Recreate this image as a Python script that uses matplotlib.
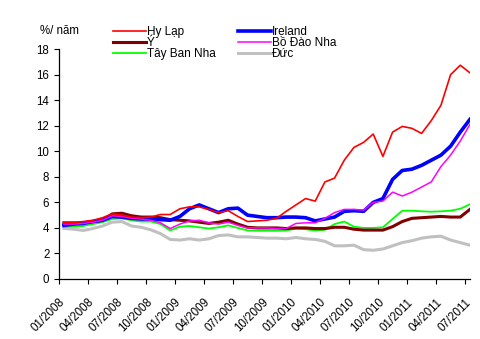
import matplotlib
matplotlib.use('Agg')
import matplotlib.pyplot as plt
import numpy as np

plt.rcParams['font.family'] = ['Liberation Sans', 'DejaVu Sans']

# monthly yields, Jan 2008 .. Jul 2011 (%/year)
greece = [4.4, 4.4, 4.5, 4.6, 4.8, 5.1, 5.0, 4.85, 4.8, 4.85, 5.05, 5.05, 5.5, 5.65, 5.65,
          5.45, 5.2, 5.35, 4.9, 4.5, 4.55, 4.6, 4.75, 5.3, 5.8, 6.3, 6.1, 7.6, 7.9, 9.3,
          10.3, 10.7, 11.35, 9.6, 11.5, 11.95, 11.8, 11.4, 12.4, 13.6, 16.0, 16.74, 16.15]
ireland = [4.2, 4.3, 4.35, 4.5, 4.6, 4.9, 4.85, 4.75, 4.7, 4.7, 4.65, 4.6, 4.9, 5.5, 5.8,
           5.5, 5.2, 5.5, 5.55, 5.0, 4.9, 4.8, 4.8, 4.85, 4.85, 4.8, 4.55, 4.7, 4.85, 5.3,
           5.35, 5.3, 6.0, 6.3, 7.8, 8.5, 8.6, 8.9, 9.3, 9.7, 10.4, 11.5, 12.5]
italy = [4.4, 4.4, 4.4, 4.5, 4.6, 5.1, 5.15, 4.95, 4.85, 4.85, 4.8, 4.65, 4.6, 4.55, 4.45,
         4.35, 4.45, 4.6, 4.3, 4.05, 4.0, 4.0, 4.0, 3.95, 4.0, 4.0, 3.95, 3.95, 4.05, 4.05,
         3.9, 3.83, 3.83, 3.83, 4.1, 4.5, 4.75, 4.8, 4.85, 4.9, 4.85, 4.85, 5.45]
portugal = [4.3, 4.3, 4.35, 4.45, 4.6, 4.95, 4.9, 4.75, 4.7, 4.6, 4.4, 3.95, 4.3, 4.55, 4.6,
            4.4, 4.3, 4.45, 4.2, 4.0, 4.0, 4.0, 3.95, 3.95, 4.35, 4.4, 4.4, 4.75, 5.2, 5.45,
            5.45, 5.4, 6.0, 6.1, 6.8, 6.5, 6.8, 7.2, 7.6, 8.8, 9.7, 10.8, 12.1]
spain = [4.1, 4.1, 4.15, 4.3, 4.45, 4.7, 4.75, 4.6, 4.5, 4.5, 4.3, 3.8, 4.1, 4.15, 4.05,
         3.95, 4.05, 4.2, 4.0, 3.8, 3.78, 3.78, 3.78, 3.8, 3.95, 3.9, 3.8, 3.85, 4.3, 4.5,
         4.1, 4.0, 4.0, 4.05, 4.7, 5.35, 5.35, 5.3, 5.27, 5.3, 5.35, 5.5, 5.85]
germany = [3.96, 3.9, 3.8, 3.95, 4.15, 4.45, 4.5, 4.15, 4.05, 3.85, 3.55, 3.1, 3.05, 3.15, 3.05,
           3.15, 3.4, 3.45, 3.3, 3.3, 3.25, 3.2, 3.2, 3.15, 3.25, 3.15, 3.1, 2.95, 2.6, 2.6,
           2.65, 2.3, 2.25, 2.35, 2.6, 2.85, 3.0, 3.2, 3.3, 3.35, 3.05, 2.85, 2.65]

tick_labels = ['01/2008', '04/2008', '07/2008', '10/2008', '01/2009', '04/2009', '07/2009',
               '10/2009', '01/2010', '04/2010', '07/2010', '10/2010', '01/2011', '04/2011',
               '07/2011']

x = np.arange(len(greece)) + 0.5  # each month drawn at mid-month

fig = plt.figure(figsize=(4.8, 3.39), dpi=100)
ax = fig.add_axes([0.123, 0.177, 0.856, 0.678])

l_de, = ax.plot(x, germany, color='#C0C0C0', lw=2.2)
l_es, = ax.plot(x, spain, color='#00FF00', lw=1.3)
l_it, = ax.plot(x, italy, color='#800000', lw=2.2)
l_ie, = ax.plot(x, ireland, color='#0000FF', lw=2.6)
l_pt, = ax.plot(x, portugal, color='#FF00FF', lw=1.1)
l_gr, = ax.plot(x, greece, color='#FF0000', lw=1.2)

ax.set_xlim(0, 42.5)
ax.set_ylim(0, 18)
ax.set_yticks(range(0, 19, 2))
ax.set_xticks(np.arange(0, 43, 3))
ax.set_xticklabels(tick_labels, rotation=45, ha='right', rotation_mode='anchor')
ax.tick_params(axis='both', labelsize=8.3, length=3.5, width=0.8, direction='out')
ax.tick_params(axis='x', pad=9)
for s in ['top', 'right']:
    ax.spines[s].set_visible(False)
for s in ['left', 'bottom']:
    ax.spines[s].set_linewidth(0.9)

fig.text(0.083, 0.908, '%/ năm', fontsize=8.3, va='center')

leg = fig.legend([l_gr, l_it, l_es, l_ie, l_pt, l_de],
                 ['Hy Lạp', 'Ý', 'Tây Ban Nha', 'Ireland', 'Bồ Đào Nha', 'Đức'],
                 ncol=2, loc='upper left', bbox_to_anchor=(0.236, 0.924),
                 frameon=False, fontsize=8.5, labelspacing=-0.08, handlelength=2.75,
                 handletextpad=0.1, columnspacing=1.9, borderpad=0, borderaxespad=0)

fig.savefig('out.png', dpi=100)
